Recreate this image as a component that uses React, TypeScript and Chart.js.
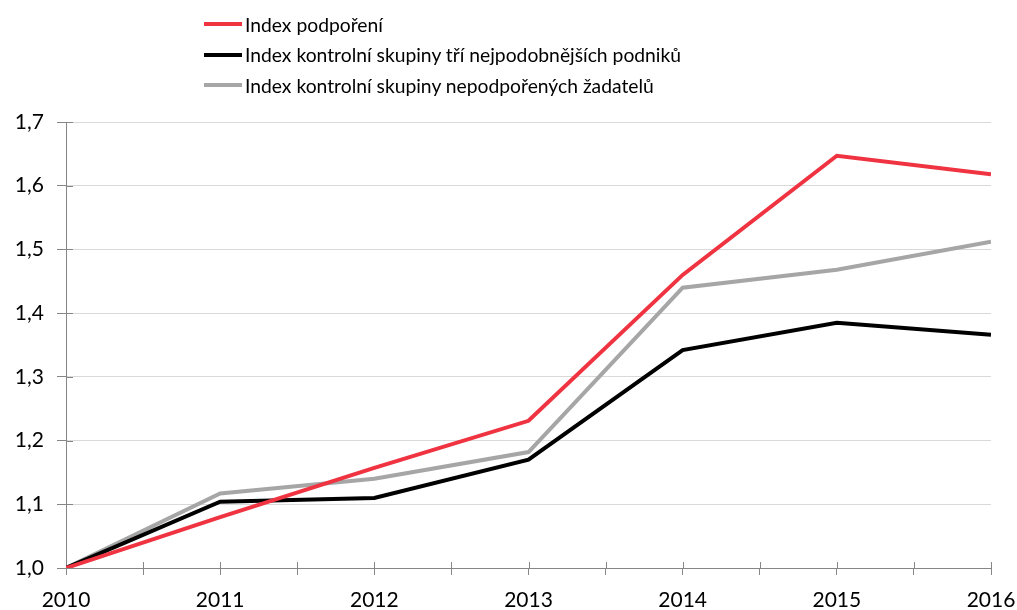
import React, { useEffect, useRef } from "react";
import { Chart, registerables } from "chart.js";

Chart.register(...registerables);

const years = [2010, 2011, 2012, 2013, 2014, 2015, 2016];
const supportedIndex = [1.0, 1.08, 1.157, 1.231, 1.46, 1.647, 1.618];
const similarThreeIndex = [1.0, 1.104, 1.11, 1.17, 1.342, 1.385, 1.366];
const unsupportedApplicantsIndex = [1.0, 1.117, 1.14, 1.182, 1.44, 1.468, 1.512];
const seriesLabels = [
  "Index podpoření",
  "Index kontrolní skupiny tří nejpodobnějších podniků",
  "Index kontrolní skupiny nepodpořených žadatelů",
];
const seriesColors = ["#EF3340", "#000000", "#A6A6A6"];

const FONT = "Lato, 'Open Sans', sans-serif";
const AXIS = "#868686";

const crossTicks = {
  id: "crossTicks",
  beforeDatasetsDraw(chart: any) {
    const { ctx, chartArea, scales } = chart;
    ctx.save();
    ctx.strokeStyle = AXIS;
    ctx.lineWidth = 1;
    scales.x.ticks.forEach((t: any) => {
      const px = Math.round(scales.x.getPixelForValue(t.value)) + 0.5;
      ctx.beginPath();
      ctx.moveTo(px, chartArea.bottom - 6);
      ctx.lineTo(px, chartArea.bottom);
      ctx.stroke();
    });
    scales.y.ticks.forEach((t: any) => {
      const py = Math.round(scales.y.getPixelForValue(t.value)) + 0.5;
      ctx.beginPath();
      ctx.moveTo(chartArea.left, py);
      ctx.lineTo(chartArea.left + 7, py);
      ctx.stroke();
    });
    ctx.restore();
  },
};

export default function App() {
  const ref = useRef<HTMLCanvasElement>(null);

  useEffect(() => {
    if (!ref.current) return;
    const seriesData = [supportedIndex, similarThreeIndex, unsupportedApplicantsIndex];
    const chart = new Chart(ref.current, {
      type: "line",
      data: {
        datasets: seriesData.map((vals, i) => ({
          label: seriesLabels[i],
          data: vals.map((v, j) => ({ x: years[j], y: v })),
          borderColor: seriesColors[i],
          backgroundColor: seriesColors[i],
          borderWidth: 4,
          pointRadius: 0,
          tension: 0,
          borderJoinStyle: "miter" as const,
        })),
      },
      options: {
        animation: false,
        responsive: false,
        layout: { padding: { top: 122, right: 26, left: 0, bottom: 0 } },
        plugins: { legend: { display: false }, tooltip: { enabled: false } },
        scales: {
          x: {
            type: "linear",
            min: years[0],
            max: years[years.length - 1],
            afterFit: (s: any) => {
              s.height = 42;
              s.paddingLeft = 0;
              s.paddingRight = 0;
            },
            ticks: {
              stepSize: 0.5,
              autoSkip: false,
              maxRotation: 0,
              padding: 13,
              color: "#000",
              font: { family: FONT, size: 21 },
              callback: (v: any) => (Number.isInteger(v) ? String(v) : ""),
            },
            grid: { drawOnChartArea: false, color: AXIS, tickLength: 7 },
            border: { color: AXIS },
          },
          y: {
            min: 1,
            max: 1.7,
            afterFit: (s: any) => {
              s.width = 66;
              s.paddingTop = 0;
              s.paddingBottom = 0;
            },
            ticks: {
              stepSize: 0.1,
              padding: 13,
              color: "#000",
              font: { family: FONT, size: 21 },
              callback: (v: any) => Number(v).toFixed(1).replace(".", ","),
            },
            grid: { color: "#D9D9D9", tickColor: AXIS, tickLength: 9 },
            border: { color: AXIS },
          },
        },
      },
      plugins: [crossTicks],
    });
    return () => chart.destroy();
  }, []);

  return (
    <div style={{ position: "absolute", left: 0, top: 0, width: 1017, height: 610, background: "#fff" }}>
      <canvas ref={ref} width={1017} height={610} style={{ display: "block" }} />
      <div style={{ position: "absolute", left: 204, top: 9, fontFamily: FONT, fontSize: 19.3, color: "#000" }}>
        {seriesLabels.map((l, i) => (
          <div key={i} style={{ display: "flex", alignItems: "center", height: 30.5 }}>
            <span style={{ display: "inline-block", width: 38, height: 4, background: seriesColors[i], marginRight: 3 }} />
            <span>{l}</span>
          </div>
        ))}
      </div>
    </div>
  );
}
